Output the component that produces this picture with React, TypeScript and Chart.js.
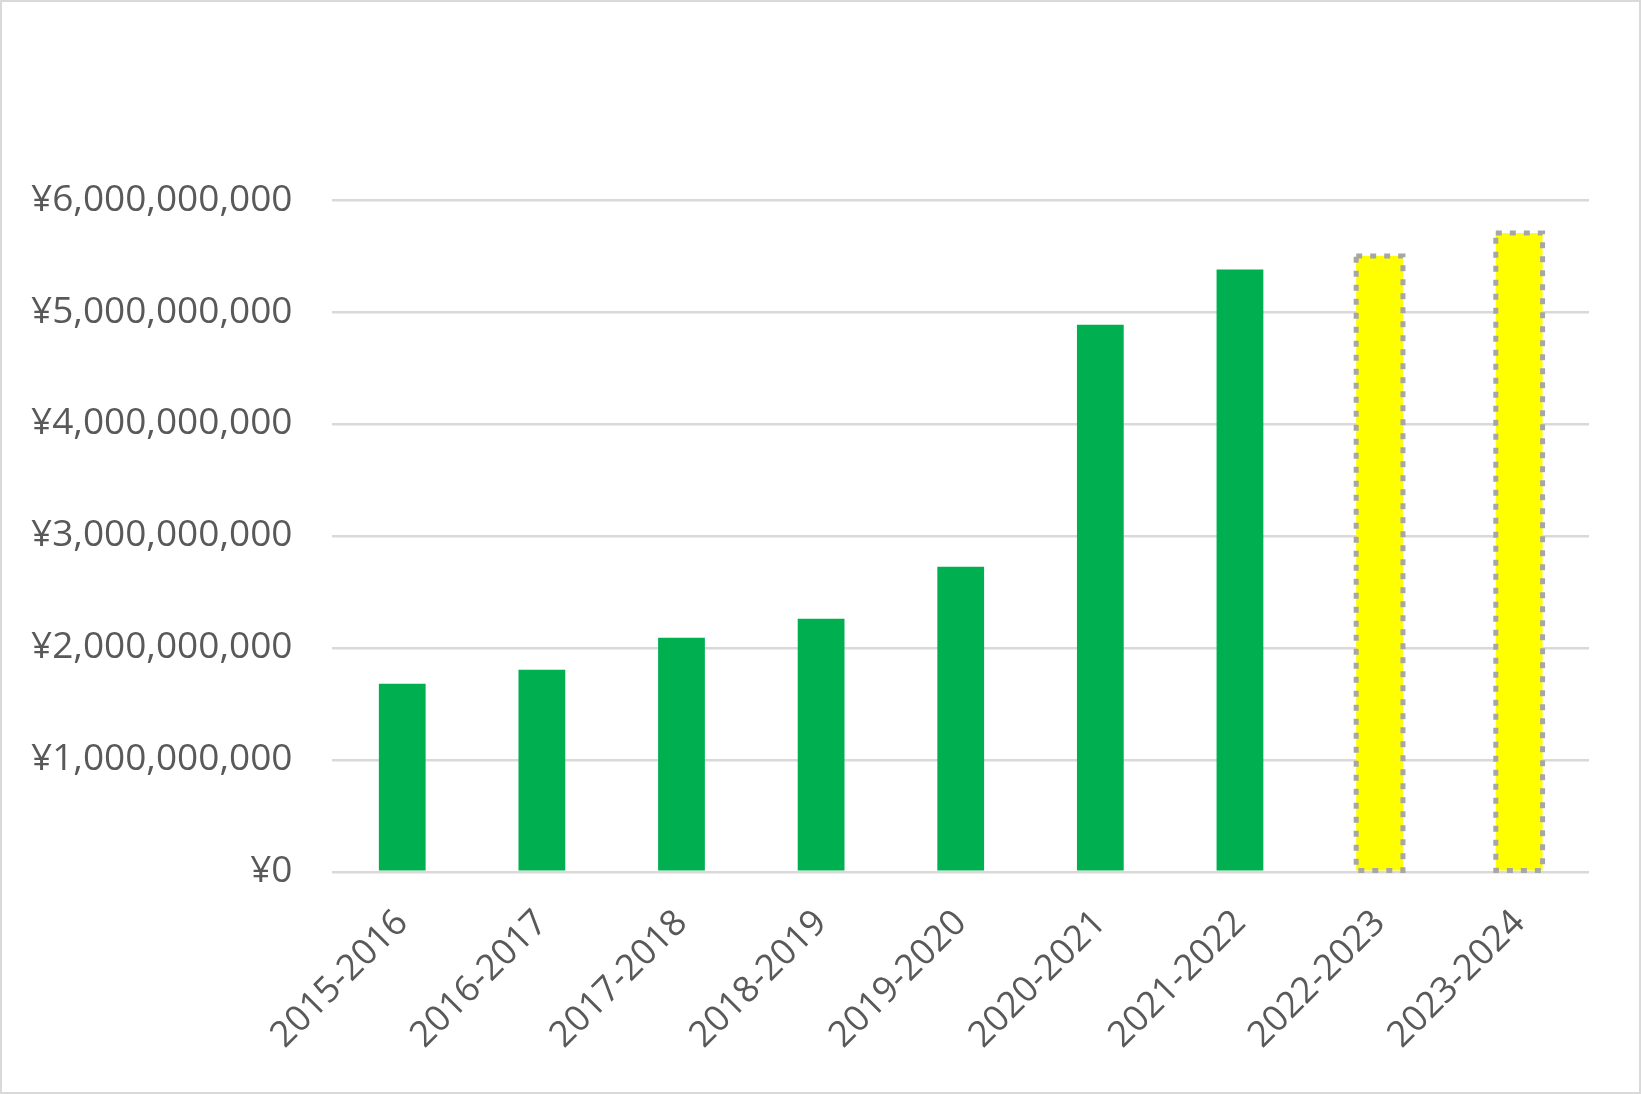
import React, { useEffect, useRef } from "react";
import { Chart, registerables } from "chart.js";

Chart.register(...registerables);

const categories = [
  "2015-2016",
  "2016-2017",
  "2017-2018",
  "2018-2019",
  "2019-2020",
  "2020-2021",
  "2021-2022",
  "2022-2023",
  "2023-2024",
];
const values = [
  1680000000, 1805000000, 2090000000, 2260000000, 2725000000, 4885000000,
  5380000000, 5500000000, 5705000000,
];
const projected = [false, false, false, false, false, false, false, true, true];
const yTicks = [0, 1000000000, 2000000000, 3000000000, 4000000000, 5000000000, 6000000000];

const GREEN = "#00B050";
const YELLOW = "#FFFF00";
const DASH_COLOR = "#A6A6A6";
const TEXT = "#595959";
const GRID = "#D9D9D9";
const FONT = "'Open Sans', 'Liberation Sans', sans-serif";

const dashedBorderPlugin = {
  id: "dashedBorder",
  afterDatasetsDraw(chart: any) {
    const meta = chart.getDatasetMeta(0);
    const ctx = chart.ctx;
    ctx.save();
    ctx.strokeStyle = DASH_COLOR;
    ctx.lineWidth = 5;
    ctx.setLineDash([6, 8]);
    meta.data.forEach((el: any, i: number) => {
      if (!projected[i]) return;
      const { x, y, base, width } = el.getProps(["x", "y", "base", "width"], true);
      ctx.strokeRect(x - width / 2, y, width, base - y);
    });
    ctx.restore();
  },
};

export default function App() {
  const ref = useRef<HTMLCanvasElement | null>(null);

  useEffect(() => {
    document.body.style.margin = "0";
    const canvas = ref.current;
    if (!canvas) return;
    const chart = new Chart(canvas, {
      type: "bar",
      data: {
        labels: categories,
        datasets: [
          {
            data: values,
            backgroundColor: projected.map((p) => (p ? YELLOW : GREEN)),
            borderWidth: 0,
            categoryPercentage: 1,
            barPercentage: 0.335,
          },
        ],
      },
      options: {
        responsive: false,
        animation: false,
        layout: { padding: { left: 31, right: 52, top: 200, bottom: 7 } },
        plugins: {
          legend: { display: false },
          tooltip: { enabled: false },
        },
        scales: {
          x: {
            grid: { display: false, drawTicks: false },
            border: { display: false },
            afterFit: (axis: any) => {
              axis.paddingLeft = 0;
              axis.paddingRight = 0;
            },
            ticks: {
              color: TEXT,
              font: { family: FONT, size: 36 },
              minRotation: 45,
              maxRotation: 45,
              padding: 30,
            },
          },
          y: {
            min: 0,
            max: 6000000000,
            afterBuildTicks: (axis: any) => {
              axis.ticks = yTicks.map((v) => ({ value: v }));
            },
            afterFit: (axis: any) => {
              axis.width -= 40;
            },
            grid: { color: GRID, lineWidth: 2.5, drawTicks: false },
            border: { display: false },
            ticks: {
              color: TEXT,
              font: { family: FONT, size: 37 },
              padding: 40,
              callback: (v: any) => "¥" + Number(v).toLocaleString("en-US"),
            },
          },
        },
      },
      plugins: [dashedBorderPlugin],
    });
    return () => chart.destroy();
  }, []);

  return (
    <div style={{ position: "relative", width: 1641, height: 1094, background: "#fff" }}>
      <canvas ref={ref} width={1641} height={1094} style={{ display: "block" }} />
      <div
        style={{
          position: "absolute",
          inset: 0,
          border: "2.5px solid #D9D9D9",
          boxSizing: "border-box",
          pointerEvents: "none",
        }}
      />
    </div>
  );
}
